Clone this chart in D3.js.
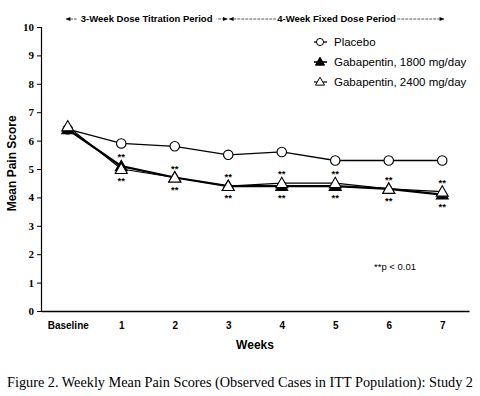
<!DOCTYPE html>
<html>
<head>
<meta charset="utf-8">
<script src="https://cdn.jsdelivr.net/npm/d3@7"></script>
<style>
  body { margin: 0; background: #fff; }
  svg { display: block; }
</style>
</head>
<body>
<div id="chart"></div>
<script>
// data
const weeks = ["Baseline", "1", "2", "3", "4", "5", "6", "7"];
const placebo = [6.4, 5.9, 5.8, 5.5, 5.6, 5.3, 5.3, 5.3];
const gaba1800 = [6.4, 5.1, 4.7, 4.4, 4.4, 4.4, 4.3, 4.1];
const gaba2400 = [6.5, 5.0, 4.7, 4.4, 4.5, 4.5, 4.3, 4.2];
const yTicks = [0, 1, 2, 3, 4, 5, 6, 7, 8, 9, 10];
const periods = [
  {label: "3-Week Dose Titration Period", start: -0.05, end: 3},
  {label: "4-Week Fixed Dose Period", start: 3, end: 7.05}
];
const sigWeeks = [1, 2, 3, 4, 5, 6, 7];

const width = 480, height = 396;
const margin = {top: 27, right: 11, bottom: 85, left: 41};

const svg = d3.select("#chart").append("svg")
  .attr("width", width)
  .attr("height", height);

const x = d3.scaleLinear().domain([-0.5, 7.5]).range([margin.left, width - margin.right]);
const y = d3.scaleLinear().domain([0, 10]).range([height - margin.bottom, margin.top]);

const sans = "'Liberation Sans', Arial, sans-serif";
const serif = "'Liberation Serif', 'Times New Roman', serif";

// y axis
const yAxis = svg.append("g")
  .attr("transform", `translate(${margin.left},0)`)
  .call(d3.axisLeft(y).tickValues(yTicks).tickSize(4).tickPadding(3).tickFormat(d3.format("d")));
yAxis.select(".domain").attr("stroke", "#000").attr("stroke-width", 1.2);
yAxis.selectAll(".tick line").attr("stroke", "#000");
yAxis.selectAll(".tick text")
  .attr("font-family", serif).attr("font-weight", "bold").attr("font-size", 11).attr("fill", "#000");

// x axis
const xAxis = svg.append("g")
  .attr("transform", `translate(0,${y(0)})`)
  .call(d3.axisBottom(x).tickValues(d3.range(weeks.length)).tickSize(0).tickPadding(11)
    .tickFormat(i => weeks[i]));
xAxis.select(".domain").attr("stroke", "#000").attr("stroke-width", 1.4);
xAxis.selectAll(".tick text")
  .attr("font-family", sans).attr("font-weight", "bold").attr("font-size", 10).attr("fill", "#000");

svg.append("text")
  .attr("x", x(3.5)).attr("y", 349)
  .attr("text-anchor", "middle")
  .attr("font-family", sans).attr("font-weight", "bold").attr("font-size", 12)
  .text("Weeks");

svg.append("text")
  .attr("transform", `translate(16,${y(5.2)}) rotate(-90)`)
  .attr("text-anchor", "middle")
  .attr("font-family", sans).attr("font-weight", "bold").attr("font-size", 12)
  .text("Mean Pain Score");

// period arrows along the top
const defs = svg.append("defs");
defs.append("marker").attr("id", "arr")
  .attr("viewBox", "0 0 10 10").attr("refX", 9).attr("refY", 5)
  .attr("markerWidth", 7).attr("markerHeight", 6).attr("orient", "auto-start-reverse")
  .append("path").attr("d", "M0,1 L10,5 L0,9 Z").attr("fill", "#000");

const per = svg.append("g").selectAll("g").data(periods).join("g");
per.append("line")
  .attr("x1", d => x(d.start) + 1).attr("x2", d => x(d.end) - 1)
  .attr("y1", 19).attr("y2", 19)
  .attr("stroke", "#333").attr("stroke-width", 0.8).attr("stroke-dasharray", "3,1")
  .attr("marker-start", "url(#arr)").attr("marker-end", "url(#arr)");
per.append("rect")
  .attr("x", d => (x(d.start) + x(d.end)) / 2 - d.label.length * 2.5)
  .attr("y", 13).attr("height", 12)
  .attr("width", d => d.label.length * 5)
  .attr("fill", "#fff");
per.append("text")
  .attr("x", d => (x(d.start) + x(d.end)) / 2).attr("y", 22)
  .attr("text-anchor", "middle")
  .attr("font-family", sans).attr("font-weight", "bold").attr("font-size", 9.5)
  .text(d => d.label);

// series
const series = [
  {name: "Placebo", values: placebo, marker: "circle", fill: "#fff", lw: 1.3},
  {name: "Gabapentin, 1800 mg/day", values: gaba1800, marker: "triangle", fill: "#000", lw: 2.2},
  {name: "Gabapentin, 2400 mg/day", values: gaba2400, marker: "triangle", fill: "#fff", lw: 1.2}
];

const line = d3.line().x((d, i) => x(i)).y(d => y(d));
const circleSym = d3.symbol().type(d3.symbolCircle).size(70);
const triSym = d3.symbol().type(d3.symbolTriangle).size(62);

series.forEach(s => {
  svg.append("path")
    .datum(s.values)
    .attr("d", line)
    .attr("fill", "none").attr("stroke", "#000").attr("stroke-width", s.lw);
});
series.forEach(s => {
  svg.append("g").selectAll("path")
    .data(s.values)
    .join("path")
    .attr("transform", (d, i) => `translate(${x(i)},${y(d) + (s.marker === "triangle" ? 1 : 0)})`)
    .attr("d", s.marker === "circle" ? circleSym : triSym)
    .attr("fill", s.fill).attr("stroke", "#000").attr("stroke-width", 1.1);
});

// significance stars above (2400) and below (1800)
svg.append("g").selectAll("text")
  .data(sigWeeks)
  .join("text")
  .attr("x", w => x(w)).attr("y", w => y(Math.max(gaba2400[w], gaba1800[w])) - 6)
  .attr("text-anchor", "middle")
  .attr("font-family", sans).attr("font-weight", "bold").attr("font-size", 9.5)
  .text("**");
svg.append("g").selectAll("text")
  .data(sigWeeks)
  .join("text")
  .attr("x", w => x(w)).attr("y", w => y(Math.min(gaba2400[w], gaba1800[w])) + 15)
  .attr("text-anchor", "middle")
  .attr("font-family", sans).attr("font-weight", "bold").attr("font-size", 9.5)
  .text("**");

svg.append("text")
  .attr("x", 374).attr("y", 270)
  .attr("font-family", sans).attr("font-size", 9.5)
  .text("**p < 0.01");

// legend
const legend = svg.append("g").selectAll("g")
  .data(series)
  .join("g")
  .attr("transform", (d, i) => `translate(320,${42 + i * 20})`);
legend.append("line")
  .attr("x1", -6).attr("x2", 7).attr("y1", 0).attr("y2", 0)
  .attr("stroke", "#000").attr("stroke-width", d => Math.min(d.lw, 1.6));
legend.append("path")
  .attr("transform", d => `translate(0,${d.marker === "triangle" ? 0.5 : 0})`)
  .attr("d", d => d.marker === "circle" ? d3.symbol().type(d3.symbolCircle).size(40)() : d3.symbol().type(d3.symbolTriangle).size(36)())
  .attr("fill", d => d.fill).attr("stroke", "#000").attr("stroke-width", 1);
legend.append("text")
  .attr("x", 14).attr("y", 4)
  .attr("font-family", sans).attr("font-size", 11.5)
  .text(d => d.name);

// caption
svg.append("text")
  .attr("x", 7).attr("y", 387)
  .attr("font-family", serif).attr("font-size", 14.5)
  .attr("textLength", 466).attr("lengthAdjust", "spacingAndGlyphs")
  .text("Figure 2. Weekly Mean Pain Scores (Observed Cases in ITT Population): Study 2");
</script>
</body>
</html>
